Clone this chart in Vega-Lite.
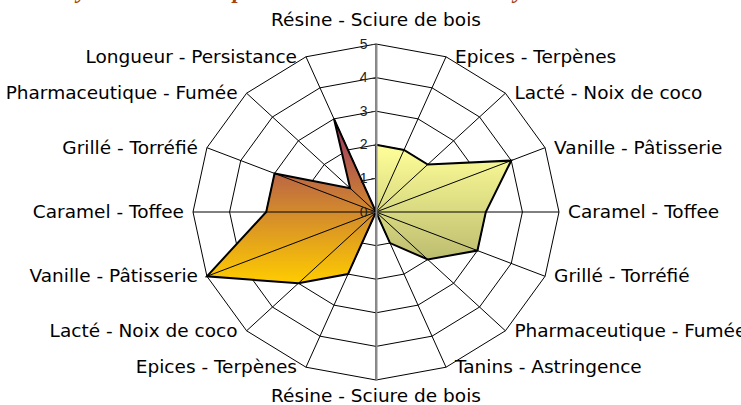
{
  "$schema": "https://vega.github.io/schema/vega-lite/v6.json",
  "autosize": {"type": "none"},
  "width": 366,
  "height": 336,
  "padding": {"left": 193, "top": 44, "right": 182, "bottom": 25},
  "background": "white",
  "config": {"view": {"stroke": null}},
  "title": {
    "text": "Analyse du nez : comparaison entre les deux whiskys",
    "anchor": "start",
    "frame": "group",
    "dx": -162,
    "dy": 20,
    "font": "Liberation Serif",
    "fontStyle": "italic",
    "fontWeight": "bold",
    "fontSize": 23,
    "color": "#a8420c",
    "baseline": "alphabetic",
    "offset": 10
  },
  "datasets": {
    "criteres": [
      {"pos": 0, "critere": "Résine - Sciure de bois"},
      {"pos": 1, "critere": "Epices - Terpènes"},
      {"pos": 2, "critere": "Lacté - Noix de coco"},
      {"pos": 3, "critere": "Vanille - Pâtisserie"},
      {"pos": 4, "critere": "Caramel - Toffee"},
      {"pos": 5, "critere": "Grillé - Torréfié"},
      {"pos": 6, "critere": "Pharmaceutique - Fumée"},
      {"pos": 7, "critere": "Tanins - Astringence"},
      {"pos": 8, "critere": "Résine - Sciure de bois"},
      {"pos": 9, "critere": "Epices - Terpènes"},
      {"pos": 10, "critere": "Lacté - Noix de coco"},
      {"pos": 11, "critere": "Vanille - Pâtisserie"},
      {"pos": 12, "critere": "Caramel - Toffee"},
      {"pos": 13, "critere": "Grillé - Torréfié"},
      {"pos": 14, "critere": "Pharmaceutique - Fumée"},
      {"pos": 15, "critere": "Longueur - Persistance"}
    ],
    "notes": [
      {"pos": 0, "serie": "Série 1", "note": 0},
      {"pos": 1, "serie": "Série 1", "note": 0},
      {"pos": 2, "serie": "Série 1", "note": 0},
      {"pos": 3, "serie": "Série 1", "note": 0},
      {"pos": 4, "serie": "Série 1", "note": 0},
      {"pos": 5, "serie": "Série 1", "note": 0},
      {"pos": 6, "serie": "Série 1", "note": 0},
      {"pos": 7, "serie": "Série 1", "note": 0},
      {"pos": 8, "serie": "Série 1", "note": 0},
      {"pos": 9, "serie": "Série 1", "note": 2},
      {"pos": 10, "serie": "Série 1", "note": 3},
      {"pos": 11, "serie": "Série 1", "note": 5},
      {"pos": 12, "serie": "Série 1", "note": 3},
      {"pos": 13, "serie": "Série 1", "note": 3},
      {"pos": 14, "serie": "Série 1", "note": 1},
      {"pos": 15, "serie": "Série 1", "note": 3},
      {"pos": 0, "serie": "Série 2", "note": 2},
      {"pos": 1, "serie": "Série 2", "note": 2},
      {"pos": 2, "serie": "Série 2", "note": 2},
      {"pos": 3, "serie": "Série 2", "note": 4},
      {"pos": 4, "serie": "Série 2", "note": 3},
      {"pos": 5, "serie": "Série 2", "note": 3},
      {"pos": 6, "serie": "Série 2", "note": 2},
      {"pos": 7, "serie": "Série 2", "note": 1},
      {"pos": 8, "serie": "Série 2", "note": 0},
      {"pos": 9, "serie": "Série 2", "note": 0},
      {"pos": 10, "serie": "Série 2", "note": 0},
      {"pos": 11, "serie": "Série 2", "note": 0},
      {"pos": 12, "serie": "Série 2", "note": 0},
      {"pos": 13, "serie": "Série 2", "note": 0},
      {"pos": 14, "serie": "Série 2", "note": 0},
      {"pos": 15, "serie": "Série 2", "note": 0}
    ]
  },
  "encoding": {
    "x": {"field": "x", "type": "quantitative", "scale": {"domain": [-5, 5], "nice": false, "zero": false}, "axis": null},
    "y": {
      "field": "y", "type": "quantitative",
      "scale": {"domain": [-5, 5], "nice": false, "zero": false},
      "axis": {
        "values": [0, 1, 2, 3, 4, 5],
        "orient": "left",
        "offset": -183,
        "title": null,
        "grid": false,
        "domainColor": "#8c8c8c",
        "domainWidth": 2,
        "tickColor": "#333333",
        "tickSize": 5,
        "labelPadding": 4,
        "labelFont": "Liberation Sans",
        "labelFontSize": 14,
        "labelColor": "#222222",
        "labelFlush": false,
        "labelOverlap": false,
        "zindex": 1
      }
    }
  },
  "layer": [
    {
      "data": {"name": "criteres"},
      "transform": [
        {"calculate": "[1, 2, 3, 4, 5]", "as": "anneau"},
        {"flatten": ["anneau"]},
        {"calculate": "datum.anneau * sin(datum.pos * PI / 8)", "as": "x"},
        {"calculate": "datum.anneau * cos(datum.pos * PI / 8)", "as": "y"}
      ],
      "mark": {"type": "line", "interpolate": "linear-closed", "stroke": "black", "strokeWidth": 1},
      "encoding": {"detail": {"field": "anneau"}, "order": {"field": "pos", "type": "quantitative"}}
    },
    {
      "data": {"name": "criteres"},
      "transform": [
        {"calculate": "5 * sin(datum.pos * PI / 8)", "as": "x"},
        {"calculate": "5 * cos(datum.pos * PI / 8)", "as": "y"}
      ],
      "mark": {"type": "rule", "stroke": "black", "strokeWidth": 1},
      "encoding": {"x2": {"datum": 0}, "y2": {"datum": 0}}
    },
    {
      "data": {"name": "notes"},
      "transform": [
        {"filter": "datum.serie == 'Série 1'"},
        {"calculate": "datum.note * sin(datum.pos * PI / 8)", "as": "x"},
        {"calculate": "datum.note * cos(datum.pos * PI / 8)", "as": "y"}
      ],
      "mark": {
        "type": "line", "interpolate": "linear-closed", "stroke": "black", "strokeWidth": 2, "strokeJoin": "miter",
        "fill": {"gradient": "linear", "x1": 0, "y1": 0, "x2": 0, "y2": 1,
          "stops": [{"offset": 0, "color": "#993366"}, {"offset": 1, "color": "#ffcc00"}]}
      },
      "encoding": {"order": {"field": "pos", "type": "quantitative"}}
    },
    {
      "data": {"name": "notes"},
      "transform": [
        {"filter": "datum.serie == 'Série 2'"},
        {"calculate": "datum.note * sin(datum.pos * PI / 8)", "as": "x"},
        {"calculate": "datum.note * cos(datum.pos * PI / 8)", "as": "y"}
      ],
      "mark": {
        "type": "line", "interpolate": "linear-closed", "stroke": "black", "strokeWidth": 2, "strokeJoin": "miter",
        "fill": {"gradient": "linear", "x1": 0, "y1": 0, "x2": 0, "y2": 1,
          "stops": [{"offset": 0, "color": "#ffff99"}, {"offset": 1, "color": "#bdbd70"}]}
      },
      "encoding": {"order": {"field": "pos", "type": "quantitative"}}
    },
    {
      "data": {"name": "notes"},
      "transform": [
        {"filter": "datum.note > 0"},
        {"calculate": "datum.note * sin(datum.pos * PI / 8)", "as": "x"},
        {"calculate": "datum.note * cos(datum.pos * PI / 8)", "as": "y"}
      ],
      "mark": {"type": "rule", "stroke": "black", "strokeWidth": 1},
      "encoding": {"x2": {"datum": 0}, "y2": {"datum": 0}}
    },
    {
      "data": {"name": "criteres"},
      "transform": [
        {"filter": "datum.pos > 0 && datum.pos < 8"},
        {"calculate": "5 * sin(datum.pos * PI / 8)", "as": "x"},
        {"calculate": "5 * cos(datum.pos * PI / 8)", "as": "y"}
      ],
      "mark": {"type": "text", "align": "left", "baseline": "middle", "dx": 9, "font": "DejaVu Sans", "fontSize": 18.5, "fill": "black"},
      "encoding": {"text": {"field": "critere"}}
    },
    {
      "data": {"name": "criteres"},
      "transform": [
        {"filter": "datum.pos > 8"},
        {"calculate": "5 * sin(datum.pos * PI / 8)", "as": "x"},
        {"calculate": "5 * cos(datum.pos * PI / 8)", "as": "y"}
      ],
      "mark": {"type": "text", "align": "right", "baseline": "middle", "dx": -9, "font": "DejaVu Sans", "fontSize": 18.5, "fill": "black"},
      "encoding": {"text": {"field": "critere"}}
    },
    {
      "data": {"name": "criteres"},
      "transform": [
        {"filter": "datum.pos == 0"},
        {"calculate": "5 * sin(datum.pos * PI / 8)", "as": "x"},
        {"calculate": "5 * cos(datum.pos * PI / 8)", "as": "y"}
      ],
      "mark": {"type": "text", "align": "center", "baseline": "alphabetic", "dy": -18, "font": "DejaVu Sans", "fontSize": 18.5, "fill": "black"},
      "encoding": {"text": {"field": "critere"}}
    },
    {
      "data": {"name": "criteres"},
      "transform": [
        {"filter": "datum.pos == 8"},
        {"calculate": "5 * sin(datum.pos * PI / 8)", "as": "x"},
        {"calculate": "5 * cos(datum.pos * PI / 8)", "as": "y"}
      ],
      "mark": {"type": "text", "align": "center", "baseline": "alphabetic", "dy": 22, "font": "DejaVu Sans", "fontSize": 18.5, "fill": "black"},
      "encoding": {"text": {"field": "critere"}}
    }
  ]
}
